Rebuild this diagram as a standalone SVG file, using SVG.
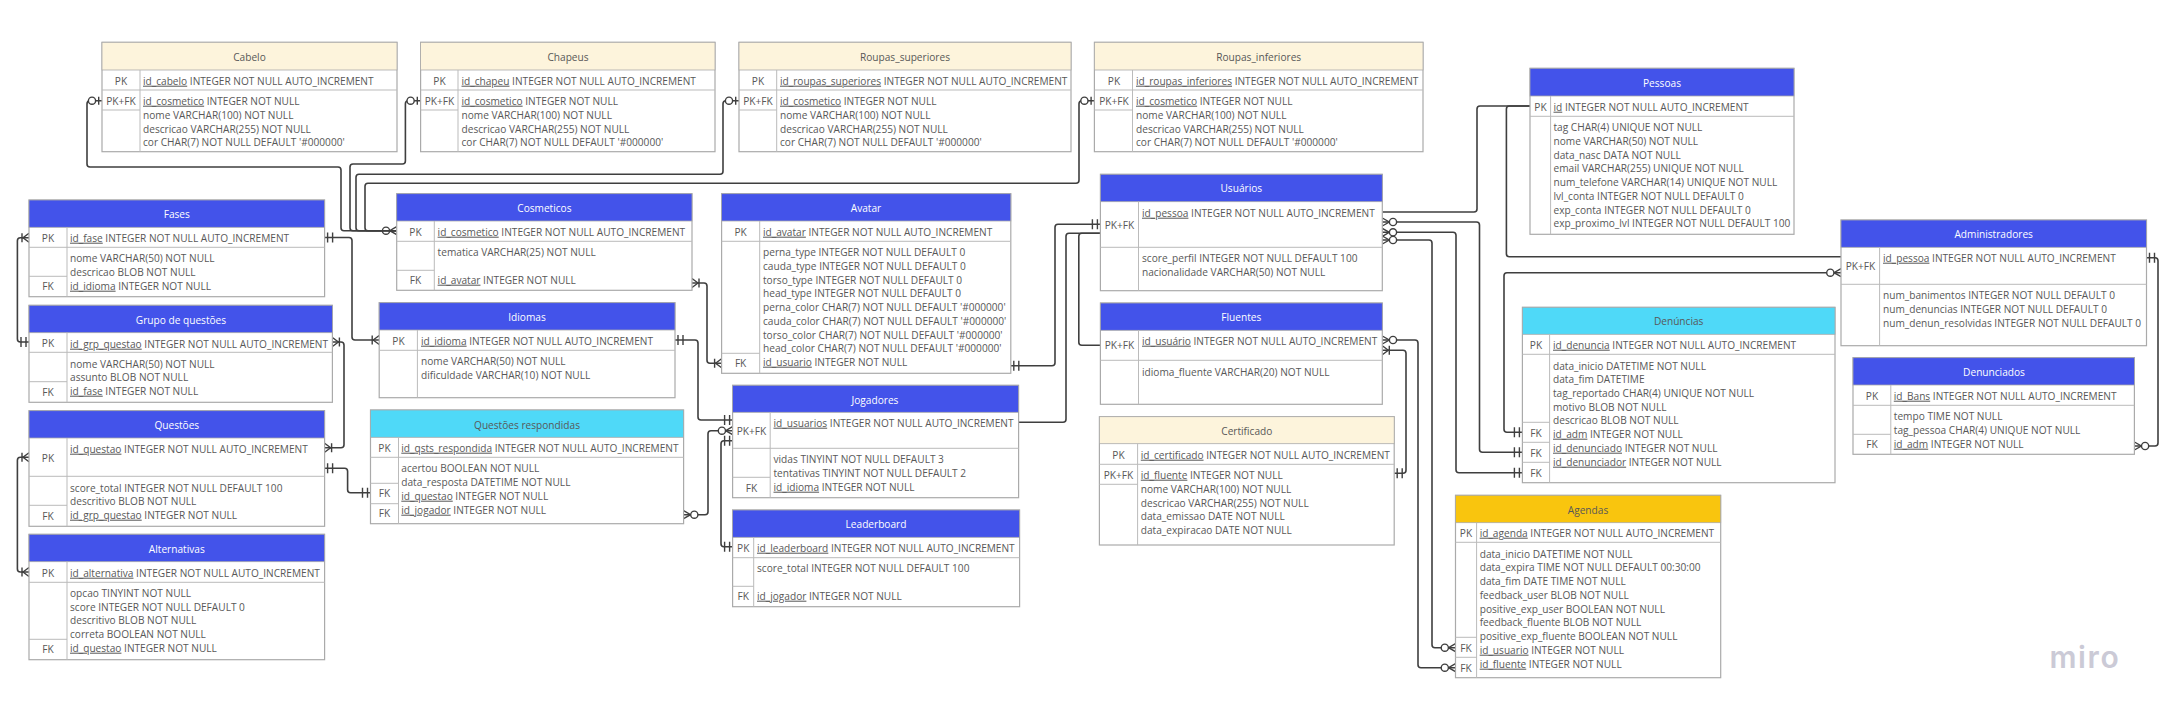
<svg xmlns="http://www.w3.org/2000/svg" width="2169" height="720" viewBox="0 0 2169 720">
<style>
text{font-family:"Open Sans","Noto Sans","DejaVu Sans",sans-serif;font-size:10.15px;fill:#585858}
.m{text-anchor:middle}
.t{text-anchor:middle}
.w{fill:#fff}
.u{text-decoration:underline}
.b{fill:#fff;stroke:#aaa;stroke-width:1.2}
.l{fill:none;stroke:#bbb;stroke-width:1}
.bl{fill:#4353ea;stroke:#aaa;stroke-width:.8}
.cy{fill:#4fd9f8;stroke:#aaa;stroke-width:.8}
.be{fill:#fdf4dc;stroke:#aaa;stroke-width:.8}
.ye{fill:#f9c50e;stroke:#aaa;stroke-width:.8}
#connectors path{fill:none;stroke:#3f3f3f;stroke-width:1.6}
.mk{fill:none;stroke:#3f3f3f;stroke-width:1.4}
#logo{font-family:"Inter","Open Sans",sans-serif;font-size:30px;font-weight:600;letter-spacing:1.6px;fill:#cbcad6}
</style>
<defs>
<marker id="one" markerUnits="userSpaceOnUse" viewBox="0 0 24 14" markerWidth="24" markerHeight="14" refX="22" refY="7" orient="auto-start-reverse"><path class="mk" d="M19 2V12M14 2V12"/></marker>
<marker id="zo" markerUnits="userSpaceOnUse" viewBox="0 0 24 14" markerWidth="24" markerHeight="14" refX="22" refY="7" orient="auto-start-reverse"><path class="mk" d="M18.7 3V11"/><circle class="mk" style="fill:#fff" cx="12" cy="7" r="3.6"/></marker>
<marker id="om" markerUnits="userSpaceOnUse" viewBox="0 0 24 14" markerWidth="24" markerHeight="14" refX="22" refY="7" orient="auto-start-reverse"><path class="mk" d="M22 2.5L16 7L22 11.5M15 2.5V11.5"/></marker>
<marker id="zm" markerUnits="userSpaceOnUse" viewBox="0 0 24 14" markerWidth="24" markerHeight="14" refX="22" refY="7" orient="auto-start-reverse"><path class="mk" d="M22 3L15 7L22 11"/><circle class="mk" style="fill:#fff" cx="11.3" cy="7" r="3.6"/></marker>
</defs>

<g id="connectors">
<path marker-start="url(#zo)" marker-end="url(#zm)" d="M102 100.7H90Q87 100.7 87 103.7V164Q87 167 90 167H338Q341 167 341 170V227.7Q341 230.7 344 230.7H396.7"/>
<path marker-start="url(#zo)" d="M420.6 100.7H408.4Q405.4 100.7 405.4 103.7V161Q405.4 164 402.4 164H353Q350 164 350 167V227.7Q350 230.7 353 230.7H396.7"/>
<path marker-start="url(#zo)" d="M739 100.7H726Q723 100.7 723 103.7V171.3Q723 174.3 720 174.3H359Q356 174.3 356 177.3V227.7Q356 230.7 359 230.7H396.7"/>
<path marker-start="url(#zo)" d="M1094.4 100.7H1082Q1079 100.7 1079 103.7V180.3Q1079 183.3 1076 183.3H368Q365 183.3 365 186.3V227.7Q365 230.7 368 230.7H396.7"/>
<path marker-start="url(#one)" marker-end="url(#om)" d="M324.6 237.5H349Q352 237.5 352 240.5V337Q352 340 355 340H379.2"/>
<path marker-start="url(#om)" marker-end="url(#one)" d="M29 237.7H20.4Q17.4 237.7 17.4 240.7V339Q17.4 342 20.4 342H29"/>
<path marker-start="url(#om)" marker-end="url(#om)" d="M332.4 342H341Q344 342 344 345V444.7Q344 447.7 341 447.7H324.6"/>
<path marker-start="url(#one)" marker-end="url(#one)" d="M324.6 468.3H344.6Q347.6 468.3 347.6 471.3V489.7Q347.6 492.7 350.6 492.7H370.5"/>
<path marker-start="url(#om)" marker-end="url(#om)" d="M29 457.3H20.4Q17.4 457.3 17.4 460.3V569Q17.4 572 20.4 572H29"/>
<path marker-start="url(#om)" marker-end="url(#om)" d="M692 283H704Q707 283 707 286V360.3Q707 363.3 710 363.3H721.6"/>
<path marker-start="url(#one)" marker-end="url(#one)" d="M675 340H695Q698 340 698 343V417Q698 420 701 420H732.6"/>
<path marker-start="url(#zm)" marker-end="url(#zm)" d="M683.6 514.7H705Q708 514.7 708 511.7V433.7Q708 430.7 711 430.7H732.6"/>
<path marker-start="url(#one)" marker-end="url(#one)" d="M732.6 440.7H724Q721 440.7 721 443.7V543.7Q721 546.7 724 546.7H732.6"/>
<path marker-start="url(#one)" marker-end="url(#one)" d="M1010.8 365.7H1052Q1055 365.7 1055 362.7V227.3Q1055 224.3 1058 224.3H1100.4"/>
<path d="M1018.6 422.3H1063Q1066 422.3 1066 419.3V236.3Q1066 233.3 1069 233.3H1100.4"/>
<path d="M1100.4 345.3H1081.8Q1078.8 345.3 1078.8 342.3V236.3Q1078.8 233.3 1081.8 233.3H1100.4"/>
<path d="M1382.3 212H1474Q1477 212 1477 209V109Q1477 106 1480 106H1530"/>
<path d="M1530 106H1509.4Q1506.4 106 1506.4 109V253.7Q1506.4 256.7 1509.4 256.7H1841"/>
<path marker-start="url(#zm)" marker-end="url(#one)" d="M1382.3 222H1476.5Q1479.5 222 1479.5 225V449.3Q1479.5 452.3 1482.5 452.3H1522.4"/>
<path marker-start="url(#zm)" marker-end="url(#one)" d="M1382.3 232.3H1453Q1456 232.3 1456 235.3V469.7Q1456 472.7 1459 472.7H1522.4"/>
<path marker-start="url(#zm)" marker-end="url(#zm)" d="M1382.3 240H1429Q1432 240 1432 243V644.7Q1432 647.7 1435 647.7H1455.5"/>
<path marker-start="url(#zm)" marker-end="url(#zm)" d="M1382.3 340H1415Q1418 340 1418 343V664.7Q1418 667.7 1421 667.7H1455.5"/>
<path marker-start="url(#om)" marker-end="url(#one)" d="M1382.3 350.3H1403Q1406 350.3 1406 353.3V470.3Q1406 473.3 1403 473.3H1394.2"/>
<path marker-start="url(#zm)" marker-end="url(#one)" d="M1841 272.7H1507Q1504 272.7 1504 275.7V429.3Q1504 432.3 1507 432.3H1522.4"/>
<path marker-start="url(#one)" marker-end="url(#zm)" d="M2146.5 257.7H2155Q2158 257.7 2158 260.7V443Q2158 446 2155 446H2134.4"/>
</g>

<g id="cabelo"><rect class="b" x="102" y="42.3" width="295" height="109.4"/><rect class="be" x="102" y="42.3" width="295" height="27.7"/><path class="l" d="M140 70V151.7M102 90H397M102 110H140"/><text class="t" x="249.5" y="60.7">Cabelo</text><text class="m" x="121" y="84.7">PK</text><text class="m" x="121" y="104.7">PK+FK</text><text x="143" y="84.7"><tspan class="u">id_cabelo</tspan> INTEGER NOT NULL AUTO_INCREMENT</text><text x="143" y="104.7"><tspan class="u">id_cosmetico</tspan> INTEGER NOT NULL</text><text x="143" y="118.7">nome VARCHAR(100) NOT NULL</text><text x="143" y="132.7">descricao VARCHAR(255) NOT NULL</text><text x="143" y="145.7">cor CHAR(7) NOT NULL DEFAULT '#000000'</text></g>

<g id="chapeus"><rect class="b" x="420.6" y="42.3" width="294.4" height="109.4"/><rect class="be" x="420.6" y="42.3" width="294.4" height="27.7"/><path class="l" d="M458 70V151.7M420.6 90H715M420.6 110H458"/><text class="t" x="568" y="60.7">Chapeus</text><text class="m" x="439.5" y="84.7">PK</text><text class="m" x="439.5" y="104.7">PK+FK</text><text x="461.5" y="84.7"><tspan class="u">id_chapeu</tspan> INTEGER NOT NULL AUTO_INCREMENT</text><text x="461.5" y="104.7"><tspan class="u">id_cosmetico</tspan> INTEGER NOT NULL</text><text x="461.5" y="118.7">nome VARCHAR(100) NOT NULL</text><text x="461.5" y="132.7">descricao VARCHAR(255) NOT NULL</text><text x="461.5" y="145.7">cor CHAR(7) NOT NULL DEFAULT '#000000'</text></g>

<g id="roupas_superiores"><rect class="b" x="739" y="42.3" width="332" height="109.4"/><rect class="be" x="739" y="42.3" width="332" height="27.7"/><path class="l" d="M776.7 70V151.7M739 90H1071M739 110H776.7"/><text class="t" x="905" y="60.7">Roupas_superiores</text><text class="m" x="758" y="84.7">PK</text><text class="m" x="758" y="104.7">PK+FK</text><text x="780" y="84.7"><tspan class="u">id_roupas_superiores</tspan> INTEGER NOT NULL AUTO_INCREMENT</text><text x="780" y="104.7"><tspan class="u">id_cosmetico</tspan> INTEGER NOT NULL</text><text x="780" y="118.7">nome VARCHAR(100) NOT NULL</text><text x="780" y="132.7">descricao VARCHAR(255) NOT NULL</text><text x="780" y="145.7">cor CHAR(7) NOT NULL DEFAULT '#000000'</text></g>

<g id="roupas_inferiores"><rect class="b" x="1094.4" y="42.3" width="328.6" height="109.4"/><rect class="be" x="1094.4" y="42.3" width="328.6" height="27.7"/><path class="l" d="M1132.5 70V151.7M1094.4 90H1423M1094.4 110H1132.5"/><text class="t" x="1258.7" y="60.7">Roupas_inferiores</text><text class="m" x="1114" y="84.7">PK</text><text class="m" x="1114" y="104.7">PK+FK</text><text x="1136" y="84.7"><tspan class="u">id_roupas_inferiores</tspan> INTEGER NOT NULL AUTO_INCREMENT</text><text x="1136" y="104.7"><tspan class="u">id_cosmetico</tspan> INTEGER NOT NULL</text><text x="1136" y="118.7">nome VARCHAR(100) NOT NULL</text><text x="1136" y="132.7">descricao VARCHAR(255) NOT NULL</text><text x="1136" y="145.7">cor CHAR(7) NOT NULL DEFAULT '#000000'</text></g>

<g id="pessoas"><rect class="b" x="1530" y="68.3" width="264" height="166"/><rect class="bl" x="1530" y="68.3" width="264" height="27.7"/><path class="l" d="M1550.6 96V234.3M1530 116.3H1794"/><text class="t w" x="1662" y="86.7">Pessoas</text><text class="m" x="1540.5" y="110.7">PK</text><text x="1553.5" y="110.7"><tspan class="u">id</tspan> INTEGER NOT NULL AUTO_INCREMENT</text><text x="1553.5" y="130.7">tag CHAR(4) UNIQUE NOT NULL</text><text x="1553.5" y="144.7">nome VARCHAR(50) NOT NULL</text><text x="1553.5" y="158.7">data_nasc DATA NOT NULL</text><text x="1553.5" y="171.7">email VARCHAR(255) UNIQUE NOT NULL</text><text x="1553.5" y="185.7">num_telefone VARCHAR(14) UNIQUE NOT NULL</text><text x="1553.5" y="199.7">lvl_conta INTEGER NOT NULL DEFAULT 0</text><text x="1553.5" y="213.7">exp_conta INTEGER NOT NULL DEFAULT 0</text><text x="1553.5" y="226.7">exp_proximo_lvl INTEGER NOT NULL DEFAULT 100</text></g>

<g id="fases"><rect class="b" x="29" y="200" width="295.6" height="96.7"/><rect class="bl" x="29" y="200" width="295.6" height="27.3"/><path class="l" d="M67 227.3V296.7M29 247.3H324.6M29 276.3H67"/><text class="t w" x="176.8" y="218">Fases</text><text class="m" x="48" y="241.7">PK</text><text class="m" x="48" y="290.3">FK</text><text x="70" y="241.7"><tspan class="u">id_fase</tspan> INTEGER NOT NULL AUTO_INCREMENT</text><text x="70" y="261.7">nome VARCHAR(50) NOT NULL</text><text x="70" y="275.7">descricao BLOB NOT NULL</text><text x="70" y="289.7"><tspan class="u">id_idioma</tspan> INTEGER NOT NULL</text></g>

<g id="cosmeticos"><rect class="b" x="396.7" y="193.7" width="295.3" height="96.6"/><rect class="bl" x="396.7" y="193.7" width="295.3" height="27.3"/><path class="l" d="M434.3 221V290.3M396.7 241.3H692M396.7 270.3H434.3"/><text class="t w" x="544.4" y="211.7">Cosmeticos</text><text class="m" x="415.5" y="235.7">PK</text><text class="m" x="415.5" y="284.3">FK</text><text x="437.6" y="235.7"><tspan class="u">id_cosmetico</tspan> INTEGER NOT NULL AUTO_INCREMENT</text><text x="437.6" y="255.7">tematica VARCHAR(25) NOT NULL</text><text x="437.6" y="283.7"><tspan class="u">id_avatar</tspan> INTEGER NOT NULL</text></g>

<g id="avatar"><rect class="b" x="721.6" y="193.7" width="289.2" height="179.6"/><rect class="bl" x="721.6" y="193.7" width="289.2" height="27.3"/><path class="l" d="M759.7 221V373.3M721.6 241.3H1010.8M721.6 353.3H759.7"/><text class="t w" x="866" y="211.7">Avatar</text><text class="m" x="740.6" y="235.7">PK</text><text class="m" x="740.6" y="367.3">FK</text><text x="763" y="235.7"><tspan class="u">id_avatar</tspan> INTEGER NOT NULL AUTO_INCREMENT</text><text x="763" y="255.7">perna_type INTEGER NOT NULL DEFAULT 0</text><text x="763" y="269.7">cauda_type INTEGER NOT NULL DEFAULT 0</text><text x="763" y="283.7">torso_type INTEGER NOT NULL DEFAULT 0</text><text x="763" y="296.7">head_type INTEGER NOT NULL DEFAULT 0</text><text x="763" y="310.7">perna_color CHAR(7) NOT NULL DEFAULT '#000000'</text><text x="763" y="324.7">cauda_color CHAR(7) NOT NULL DEFAULT '#000000'</text><text x="763" y="338.7">torso_color CHAR(7) NOT NULL DEFAULT '#000000'</text><text x="763" y="351.7">head_color CHAR(7) NOT NULL DEFAULT '#000000'</text><text x="763" y="365.7"><tspan class="u">id_usuario</tspan> INTEGER NOT NULL</text></g>

<g id="usuarios"><rect class="b" x="1100.4" y="174.3" width="281.9" height="116.4"/><rect class="bl" x="1100.4" y="174.3" width="281.9" height="27.4"/><path class="l" d="M1138.5 201.7V290.7M1100.4 247.3H1382.3"/><text class="t w" x="1241.3" y="192.3">Usuários</text><text class="m" x="1119.5" y="228.7">PK+FK</text><text x="1142" y="216.7"><tspan class="u">id_pessoa</tspan> INTEGER NOT NULL AUTO_INCREMENT</text><text x="1142" y="261.7">score_perfil INTEGER NOT NULL DEFAULT 100</text><text x="1142" y="275.7">nacionalidade VARCHAR(50) NOT NULL</text></g>

<g id="administradores"><rect class="b" x="1841" y="220" width="305.5" height="125.7"/><rect class="bl" x="1841" y="220" width="305.5" height="27.3"/><path class="l" d="M1879.6 247.3V345.7M1841 284.3H2146.5"/><text class="t w" x="1993.7" y="238">Administradores</text><text class="m" x="1860.5" y="269.7">PK+FK</text><text x="1883" y="261.7"><tspan class="u">id_pessoa</tspan> INTEGER NOT NULL AUTO_INCREMENT</text><text x="1883" y="298.7">num_banimentos INTEGER NOT NULL DEFAULT 0</text><text x="1883" y="312.7">num_denuncias INTEGER NOT NULL DEFAULT 0</text><text x="1883" y="326.7">num_denun_resolvidas INTEGER NOT NULL DEFAULT 0</text></g>

<g id="grupo_de_questoes"><rect class="b" x="29" y="305.3" width="303.4" height="97"/><rect class="bl" x="29" y="305.3" width="303.4" height="27.4"/><path class="l" d="M67 332.7V402.3M29 352.3H332.4M29 381.7H67"/><text class="t w" x="181" y="323.7">Grupo de questões</text><text class="m" x="48" y="346.7">PK</text><text class="m" x="48" y="396.3">FK</text><text x="70" y="347.7"><tspan class="u">id_grp_questao</tspan> INTEGER NOT NULL AUTO_INCREMENT</text><text x="70" y="367.7">nome VARCHAR(50) NOT NULL</text><text x="70" y="380.7">assunto BLOB NOT NULL</text><text x="70" y="394.7"><tspan class="u">id_fase</tspan> INTEGER NOT NULL</text></g>

<g id="idiomas"><rect class="b" x="379.2" y="302.7" width="295.8" height="95"/><rect class="bl" x="379.2" y="302.7" width="295.8" height="27.3"/><path class="l" d="M417.4 330V397.7M379.2 350.3H675"/><text class="t w" x="527" y="320.7">Idiomas</text><text class="m" x="398.5" y="344.7">PK</text><text x="421" y="344.7"><tspan class="u">id_idioma</tspan> INTEGER NOT NULL AUTO_INCREMENT</text><text x="421" y="364.7">nome VARCHAR(50) NOT NULL</text><text x="421" y="378.7">dificuldade VARCHAR(10) NOT NULL</text></g>

<g id="questoes"><rect class="b" x="29" y="410.7" width="295.6" height="115.6"/><rect class="bl" x="29" y="410.7" width="295.6" height="27.3"/><path class="l" d="M67 438V526.3M29 476.3H324.6M29 505.3H67"/><text class="t w" x="176.8" y="428.7">Questões</text><text class="m" x="48" y="461.7">PK</text><text class="m" x="48" y="520.3">FK</text><text x="70" y="452.7"><tspan class="u">id_questao</tspan> INTEGER NOT NULL AUTO_INCREMENT</text><text x="70" y="491.7">score_total INTEGER NOT NULL DEFAULT 100</text><text x="70" y="504.7">descritivo BLOB NOT NULL</text><text x="70" y="518.7"><tspan class="u">id_grp_questao</tspan> INTEGER NOT NULL</text></g>

<g id="questoes_respondidas"><rect class="b" x="370.5" y="410" width="313.1" height="113.7"/><rect class="cy" x="370.5" y="410" width="313.1" height="27.3"/><path class="l" d="M398.5 437.3V523.7M370.5 457.3H683.6M370.5 483.3H398.5M370.5 503.7H398.5"/><text class="t" x="527" y="428.7">Questões respondidas</text><text class="m" x="384.5" y="451.7">PK</text><text class="m" x="384.5" y="497.3">FK</text><text class="m" x="384.5" y="517.3">FK</text><text x="401.3" y="451.7"><tspan class="u">id_qsts_respondida</tspan> INTEGER NOT NULL AUTO_INCREMENT</text><text x="401.3" y="471.7">acertou BOOLEAN NOT NULL</text><text x="401.3" y="485.7">data_resposta DATETIME NOT NULL</text><text x="401.3" y="499.7"><tspan class="u">id_questao</tspan> INTEGER NOT NULL</text><text x="401.3" y="513.7"><tspan class="u">id_jogador</tspan> INTEGER NOT NULL</text></g>

<g id="alternativas"><rect class="b" x="29" y="534.3" width="295.6" height="125.4"/><rect class="bl" x="29" y="534.3" width="295.6" height="27.4"/><path class="l" d="M67 561.7V659.7M29 582.3H324.6M29 639.3H67"/><text class="t w" x="176.8" y="552.7">Alternativas</text><text class="m" x="48" y="576.7">PK</text><text class="m" x="48" y="653.3">FK</text><text x="70" y="576.7"><tspan class="u">id_alternativa</tspan> INTEGER NOT NULL AUTO_INCREMENT</text><text x="70" y="596.7">opcao TINYINT NOT NULL</text><text x="70" y="610.7">score INTEGER NOT NULL DEFAULT 0</text><text x="70" y="623.7">descritivo BLOB NOT NULL</text><text x="70" y="637.7">correta BOOLEAN NOT NULL</text><text x="70" y="651.7"><tspan class="u">id_questao</tspan> INTEGER NOT NULL</text></g>

<g id="jogadores"><rect class="b" x="732.6" y="385.3" width="286" height="112.4"/><rect class="bl" x="732.6" y="385.3" width="286" height="27"/><path class="l" d="M770.2 412.3V497.7M732.6 448.3H1018.6M732.6 477.3H770.2"/><text class="t w" x="875" y="403.7">Jogadores</text><text class="m" x="751.5" y="434.7">PK+FK</text><text class="m" x="751.5" y="491.7">FK</text><text x="773.5" y="426.7"><tspan class="u">id_usuarios</tspan> INTEGER NOT NULL AUTO_INCREMENT</text><text x="773.5" y="462.7">vidas TINYINT NOT NULL DEFAULT 3</text><text x="773.5" y="476.7">tentativas TINYINT NOT NULL DEFAULT 2</text><text x="773.5" y="490.7"><tspan class="u">id_idioma</tspan> INTEGER NOT NULL</text></g>

<g id="leaderboard"><rect class="b" x="732.6" y="510" width="287" height="96.7"/><rect class="bl" x="732.6" y="510" width="287" height="27.3"/><path class="l" d="M753.7 537.3V606.7M732.6 557.7H1019.6M732.6 586.3H753.7"/><text class="t w" x="876" y="528">Leaderboard</text><text class="m" x="743.2" y="551.7">PK</text><text class="m" x="743.2" y="600.3">FK</text><text x="757" y="551.7"><tspan class="u">id_leaderboard</tspan> INTEGER NOT NULL AUTO_INCREMENT</text><text x="757" y="571.7">score_total INTEGER NOT NULL DEFAULT 100</text><text x="757" y="599.7"><tspan class="u">id_jogador</tspan> INTEGER NOT NULL</text></g>

<g id="fluentes"><rect class="b" x="1100.4" y="303" width="281.9" height="101.3"/><rect class="bl" x="1100.4" y="303" width="281.9" height="27.3"/><path class="l" d="M1138.5 330.3V404.3M1100.4 360.3H1382.3"/><text class="t w" x="1241.3" y="321">Fluentes</text><text class="m" x="1119.5" y="349.3">PK+FK</text><text x="1142" y="344.7"><tspan class="u">id_usuário</tspan> INTEGER NOT NULL AUTO_INCREMENT</text><text x="1142" y="375.7">idioma_fluente VARCHAR(20) NOT NULL</text></g>

<g id="certificado"><rect class="b" x="1099.4" y="416.7" width="294.8" height="128.3"/><rect class="be" x="1099.4" y="416.7" width="294.8" height="27"/><path class="l" d="M1137.6 443.7V545M1099.4 464.3H1394.2M1099.4 484.3H1137.6"/><text class="t" x="1246.8" y="434.7">Certificado</text><text class="m" x="1118.5" y="458.7">PK</text><text class="m" x="1118.5" y="478.7">PK+FK</text><text x="1140.8" y="458.7"><tspan class="u">id_certificado</tspan> INTEGER NOT NULL AUTO_INCREMENT</text><text x="1140.8" y="478.7"><tspan class="u">id_fluente</tspan> INTEGER NOT NULL</text><text x="1140.8" y="492.7">nome VARCHAR(100) NOT NULL</text><text x="1140.8" y="506.7">descricao VARCHAR(255) NOT NULL</text><text x="1140.8" y="519.7">data_emissao DATE NOT NULL</text><text x="1140.8" y="533.7">data_expiracao DATE NOT NULL</text></g>

<g id="denuncias"><rect class="b" x="1522.4" y="307.3" width="312.6" height="175.4"/><rect class="cy" x="1522.4" y="307.3" width="312.6" height="27"/><path class="l" d="M1549.6 334.3V482.7M1522.4 354.3H1835M1522.4 422.3H1549.6M1522.4 442.3H1549.6M1522.4 462.3H1549.6"/><text class="t" x="1678.7" y="325">Denúncias</text><text class="m" x="1536" y="348.7">PK</text><text class="m" x="1536" y="436.7">FK</text><text class="m" x="1536" y="456.7">FK</text><text class="m" x="1536" y="477.3">FK</text><text x="1553" y="348.7"><tspan class="u">id_denuncia</tspan> INTEGER NOT NULL AUTO_INCREMENT</text><text x="1553" y="369.7">data_inicio DATETIME NOT NULL</text><text x="1553" y="382.7">data_fim DATETIME</text><text x="1553" y="396.7">tag_reportado CHAR(4) UNIQUE NOT NULL</text><text x="1553" y="410.7">motivo BLOB NOT NULL</text><text x="1553" y="423.7">descricao BLOB NOT NULL</text><text x="1553" y="437.7"><tspan class="u">id_adm</tspan> INTEGER NOT NULL</text><text x="1553" y="451.7"><tspan class="u">id_denunciado</tspan> INTEGER NOT NULL</text><text x="1553" y="465.7"><tspan class="u">id_denunciador</tspan> INTEGER NOT NULL</text></g>

<g id="denunciados"><rect class="b" x="1853" y="357.7" width="281.4" height="96.6"/><rect class="bl" x="1853" y="357.7" width="281.4" height="27.3"/><path class="l" d="M1890.8 385V454.3M1853 405.3H2134.4M1853 434.3H1890.8"/><text class="t w" x="1994" y="376">Denunciados</text><text class="m" x="1872" y="399.7">PK</text><text class="m" x="1872" y="448.3">FK</text><text x="1893.8" y="399.7"><tspan class="u">id_Bans</tspan> INTEGER NOT NULL AUTO_INCREMENT</text><text x="1893.8" y="419.7">tempo TIME NOT NULL</text><text x="1893.8" y="433.7">tag_pessoa CHAR(4) UNIQUE NOT NULL</text><text x="1893.8" y="447.7"><tspan class="u">id_adm</tspan> INTEGER NOT NULL</text></g>

<g id="agendas"><rect class="b" x="1455.5" y="495.3" width="265.2" height="182.4"/><rect class="ye" x="1455.5" y="495.3" width="265.2" height="27.4"/><path class="l" d="M1476.6 522.7V677.7M1455.5 542.3H1720.7M1455.5 637.3H1476.6M1455.5 657.3H1476.6"/><text class="t" x="1588" y="513.7">Agendas</text><text class="m" x="1466" y="536.7">PK</text><text class="m" x="1466" y="651.7">FK</text><text class="m" x="1466" y="671.7">FK</text><text x="1479.7" y="536.7"><tspan class="u">id_agenda</tspan> INTEGER NOT NULL AUTO_INCREMENT</text><text x="1479.7" y="557.7">data_inicio DATETIME NOT NULL</text><text x="1479.7" y="570.7">data_expira TIME NOT NULL DEFAULT 00:30:00</text><text x="1479.7" y="584.7">data_fim DATE TIME NOT NULL</text><text x="1479.7" y="598.7">feedback_user BLOB NOT NULL</text><text x="1479.7" y="612.7">positive_exp_user BOOLEAN NOT NULL</text><text x="1479.7" y="625.7">feedback_fluente BLOB NOT NULL</text><text x="1479.7" y="639.7">positive_exp_fluente BOOLEAN NOT NULL</text><text x="1479.7" y="653.7"><tspan class="u">id_usuario</tspan> INTEGER NOT NULL</text><text x="1479.7" y="667.7"><tspan class="u">id_fluente</tspan> INTEGER NOT NULL</text></g>

<text id="logo" x="2049.5" y="667.7">miro</text>
</svg>
